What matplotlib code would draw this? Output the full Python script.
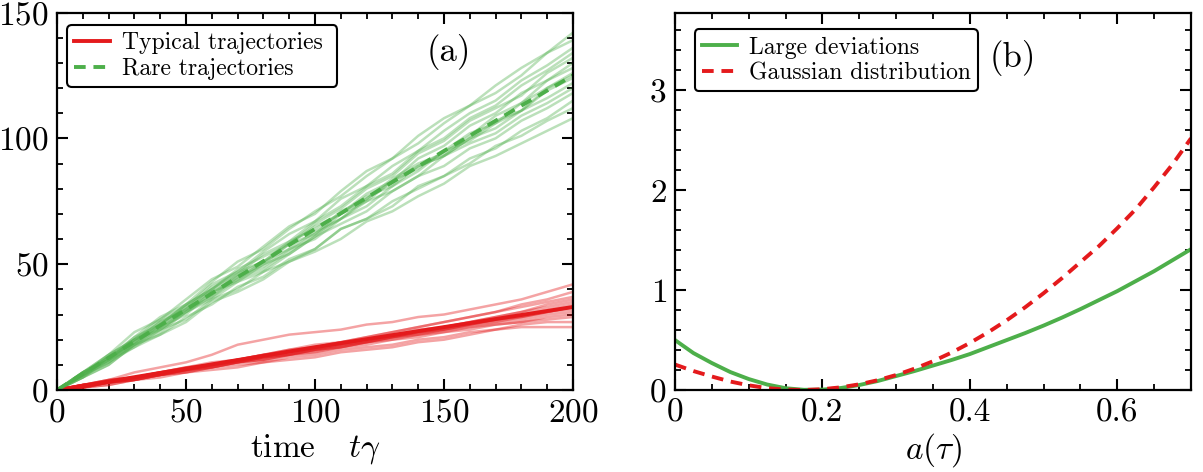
import numpy as np
import matplotlib
matplotlib.use("Agg")
import matplotlib.pyplot as plt
from matplotlib.ticker import MultipleLocator

# ---------------- data ----------------
# panel (a): trajectories sampled every 10 time units
time_pts = [0, 10, 20, 30, 40, 50, 60, 70, 80, 90, 100,
            110, 120, 130, 140, 150, 160, 170, 180, 190, 200]

rare_trajs = [
    [0, 5, 10, 18, 22, 27, 35, 39, 44, 51, 55, 60, 67, 71, 77, 82, 89, 93, 98, 103, 108],
    [0, 7, 14, 23, 28, 36, 44, 49, 57, 65, 70, 79, 87, 92, 101, 108, 113, 121, 128, 134, 142],
    [0, 6, 11, 17, 24, 28, 36, 40, 47, 51, 56, 64, 68, 73, 81, 85, 90, 97, 101, 107, 112],
    [0, 7, 13, 21, 29, 34, 43, 51, 56, 64, 71, 77, 85, 92, 98, 106, 113, 118, 125, 134, 139],
    [0, 5, 12, 17, 22, 29, 34, 41, 45, 52, 56, 64, 68, 75, 80, 85, 92, 96, 103, 108, 115],
    [0, 6, 14, 20, 28, 33, 42, 47, 55, 62, 67, 76, 81, 89, 95, 103, 110, 115, 123, 129, 136],
    [0, 7, 12, 20, 24, 31, 36, 43, 47, 54, 61, 66, 71, 79, 85, 89, 96, 100, 107, 112, 118],
    [0, 5, 13, 19, 27, 32, 41, 46, 54, 59, 67, 73, 81, 86, 95, 100, 108, 113, 121, 127, 134],
    [0, 6, 13, 18, 25, 33, 39, 43, 50, 54, 61, 70, 75, 79, 85, 93, 98, 102, 109, 114, 120],
    [0, 7, 12, 21, 26, 34, 40, 48, 53, 58, 66, 72, 80, 85, 94, 99, 107, 112, 117, 126, 132],
    [0, 6, 11, 19, 26, 31, 40, 45, 49, 56, 63, 68, 75, 83, 89, 93, 100, 104, 111, 116, 122],
    [0, 6, 13, 19, 24, 32, 38, 46, 51, 59, 64, 70, 78, 83, 92, 97, 105, 110, 118, 123, 130],
    [0, 5, 10, 18, 23, 31, 37, 45, 50, 58, 65, 70, 77, 81, 89, 93, 100, 107, 111, 119, 124],
    [0, 7, 14, 20, 25, 30, 39, 44, 48, 55, 62, 71, 76, 84, 90, 94, 101, 109, 114, 123, 128],
    [0, 6, 11, 20, 27, 32, 37, 44, 51, 56, 60, 68, 76, 83, 88, 95, 99, 106, 114, 120, 126],
    [0, 7, 12, 18, 26, 34, 40, 47, 51, 58, 62, 68, 73, 81, 87, 95, 102, 106, 111, 120, 125],
]

typical_trajs = [
    [0, 1, 3, 4, 5, 7, 8, 9, 11, 12, 13, 15, 16, 17, 19, 20, 22, 24, 25, 25, 25],
    [0, 2, 4, 7, 9, 11, 14, 18, 20, 22, 23, 24, 26, 27, 29, 30, 32, 34, 36, 39, 42],
    [0, 2, 4, 5, 7, 9, 11, 12, 14, 16, 18, 19, 21, 23, 25, 27, 29, 31, 34, 36, 39],
    [0, 1, 2, 4, 6, 7, 9, 10, 11, 13, 14, 16, 17, 18, 20, 21, 23, 24, 26, 27, 27],
    [0, 2, 3, 5, 7, 8, 10, 12, 13, 15, 17, 18, 20, 22, 24, 25, 27, 29, 31, 34, 36],
    [0, 1, 3, 5, 6, 8, 9, 11, 12, 14, 15, 17, 19, 20, 22, 23, 25, 26, 27, 29, 30],
    [0, 2, 3, 5, 7, 8, 10, 11, 13, 15, 16, 18, 19, 21, 23, 24, 26, 28, 30, 32, 34],
    [0, 1, 3, 4, 6, 8, 10, 11, 13, 14, 16, 17, 19, 21, 22, 24, 25, 27, 28, 30, 31],
    [0, 2, 4, 5, 6, 8, 9, 11, 13, 14, 16, 18, 19, 21, 23, 24, 26, 28, 29, 31, 33],
    [0, 1, 3, 5, 7, 9, 10, 12, 14, 15, 17, 19, 20, 22, 23, 25, 27, 29, 31, 33, 35],
    [0, 2, 3, 5, 6, 8, 10, 12, 13, 15, 16, 18, 20, 21, 23, 25, 26, 28, 29, 31, 32],
    [0, 1, 3, 4, 6, 8, 10, 12, 14, 16, 17, 19, 21, 23, 25, 27, 29, 31, 33, 35, 37],
    [0, 2, 3, 4, 6, 7, 9, 11, 12, 14, 15, 17, 18, 20, 21, 23, 24, 26, 27, 28, 29],
    [0, 1, 2, 4, 6, 8, 9, 11, 12, 14, 16, 17, 19, 21, 22, 24, 26, 27, 29, 31, 33],
]

mean_time = [0, 50, 100, 150, 200]
rare_mean = [0, 32, 64, 95, 125]
typical_mean = [0, 8.5, 17, 25, 33]

# panel (b): rate functions
a_vals = [0.0, 0.025, 0.05, 0.075, 0.1, 0.125, 0.15, 0.175, 0.2, 0.225, 0.25,
          0.275, 0.3, 0.325, 0.35, 0.375, 0.4, 0.425, 0.45, 0.475, 0.5,
          0.525, 0.55, 0.575, 0.6, 0.625, 0.65, 0.675, 0.7]
large_dev = [0.50, 0.37, 0.27, 0.18, 0.11, 0.055, 0.018, 0.002, 0.004, 0.02, 0.05,
             0.09, 0.14, 0.19, 0.245, 0.30, 0.36, 0.43, 0.50, 0.57, 0.645,
             0.725, 0.81, 0.90, 0.99, 1.09, 1.19, 1.30, 1.41]
gaussian = [0.255, 0.19, 0.135, 0.085, 0.047, 0.019, 0.004, 0.0, 0.008, 0.027, 0.057,
            0.098, 0.150, 0.214, 0.288, 0.374, 0.471, 0.579, 0.698, 0.828, 0.969,
            1.12, 1.28, 1.44, 1.62, 1.81, 2.03, 2.26, 2.52]

# ---------------- style ----------------
plt.rcParams['font.family'] = ['cmr10', 'DejaVu Serif']
plt.rcParams['mathtext.fontset'] = 'cm'
plt.rcParams['axes.formatter.use_mathtext'] = True
plt.rcParams['axes.unicode_minus'] = False

RED = '#e41a1c'
GREEN = '#4daf4a'

fig = plt.figure(figsize=(12.03, 4.72), dpi=100)
ax1 = fig.add_axes([0.0474, 0.1737, 0.4289, 0.7998])
ax2 = fig.add_axes([0.5611, 0.1737, 0.4289, 0.7998])


def style_axes(ax):
    ax.tick_params(which='both', direction='in', top=True, right=True,
                   labelsize=24, width=1.5, pad=6)
    ax.tick_params(which='major', length=8)
    ax.tick_params(which='minor', length=4, width=1.3)
    for s in ax.spines.values():
        s.set_linewidth(1.6)


legend_kw = dict(loc='upper left', fontsize=17, frameon=True, fancybox=True,
                 edgecolor='black', framealpha=1, handlelength=1.5,
                 borderpad=0.3, labelspacing=0.15, handletextpad=0.5,
                 borderaxespad=0.0)

# panel (a)
for tr in rare_trajs:
    ax1.plot(time_pts, tr, color=GREEN, alpha=0.38, lw=1.8)
for tr in typical_trajs:
    ax1.plot(time_pts, tr, color=RED, alpha=0.4, lw=1.8)
ax1.plot(mean_time, typical_mean, color=RED, lw=2.8, label='Typical trajectories ')
ax1.plot(mean_time, rare_mean, color=GREEN, lw=2.8, ls=(0, (3, 2)), label='Rare trajectories')
ax1.set_xlim(0, 200)
ax1.set_ylim(0, 150)
ax1.xaxis.set_major_locator(MultipleLocator(50))
ax1.xaxis.set_minor_locator(MultipleLocator(10))
ax1.yaxis.set_major_locator(MultipleLocator(50))
ax1.yaxis.set_minor_locator(MultipleLocator(10))
style_axes(ax1)
ax1.set_xlabel(r'time   $t\gamma$', fontsize=24, labelpad=3)
leg1 = ax1.legend(bbox_to_anchor=(0.02, 0.967), **legend_kw)
leg1.get_frame().set_linewidth(1.5)
ax1.text(0.76, 0.895, '(a)', transform=ax1.transAxes, fontsize=25,
         ha='center', va='center')

# panel (b)
ax2.plot(a_vals, large_dev, color=GREEN, lw=2.8, label='Large deviations')
ax2.plot(a_vals, gaussian, color=RED, lw=2.8, ls=(0, (3, 2)), label='Gaussian distribution')
ax2.set_xlim(0, 0.7)
ax2.set_ylim(0, 3.78)
ax2.xaxis.set_minor_locator(MultipleLocator(0.05))
ax2.yaxis.set_major_locator(MultipleLocator(1))
ax2.yaxis.set_minor_locator(MultipleLocator(0.2))
ax2.set_xticks([0, 0.2, 0.4, 0.6])
ax2.set_xticklabels(['0', '0.2', '0.4', '0.6'])
style_axes(ax2)
ax2.set_xlabel(r'$a(\tau)$', fontsize=24, labelpad=3)
leg2 = ax2.legend(bbox_to_anchor=(0.038, 0.955), **legend_kw)
leg2.get_frame().set_linewidth(1.5)
ax2.text(0.655, 0.879, '(b)', transform=ax2.transAxes, fontsize=25,
         ha='center', va='center')

fig.savefig('out.png', dpi=100)
